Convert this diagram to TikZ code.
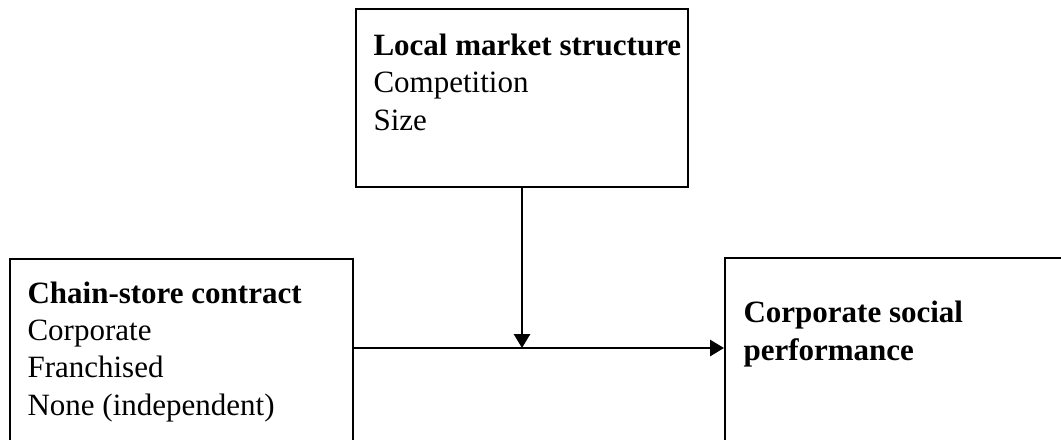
\documentclass[tikz,border=0pt]{standalone}
\usepackage{fontspec}
\setmainfont{Liberation Serif}
\usetikzlibrary{arrows.meta,fit}
\tikzset{
  kasten/.style={draw, line width=0.75pt, inner sep=0pt},
  txt/.style={align=left, inner sep=0pt, font=\fontsize{12}{14.4}\selectfont},
  pfeil/.style={-{Triangle[length=5.4pt,width=6.2pt]}, line width=1pt},
}
\begin{document}
\begin{tikzpicture}[x=0.387pt, y=-0.387pt]
\useasboundingbox (0,0) rectangle (1061,439);
\clip (0,0) rectangle (1061,439);
% Kasten oben
\node[kasten, fit={(356,9) (688,187)}] (markt) {};
\node[txt, anchor=base west] (marktTxt) at (373,130) {\textbf{Local market structure}\\Competition\\Size};
% Kasten links
\node[kasten, fit={(10,259) (353,480)}] (kette) {};
\node[txt, anchor=base west] (ketteTxt) at (27,415) {\textbf{Chain-store contract}\\Corporate\\Franchised\\None (independent)};
% Kasten rechts
\node[kasten, fit={(725,258) (1100,480)}] (csp) {};
\node[txt, anchor=base west] (cspTxt) at (743,360) {\textbf{Corporate social}\\\textbf{performance}};
% Pfeile zeichnen
\coordinate (mitte) at (522,348);
\draw[pfeil] (kette.east |- mitte) -- (csp.west |- mitte);
\draw[pfeil] (markt.south) -- (mitte);
\end{tikzpicture}
\end{document}
